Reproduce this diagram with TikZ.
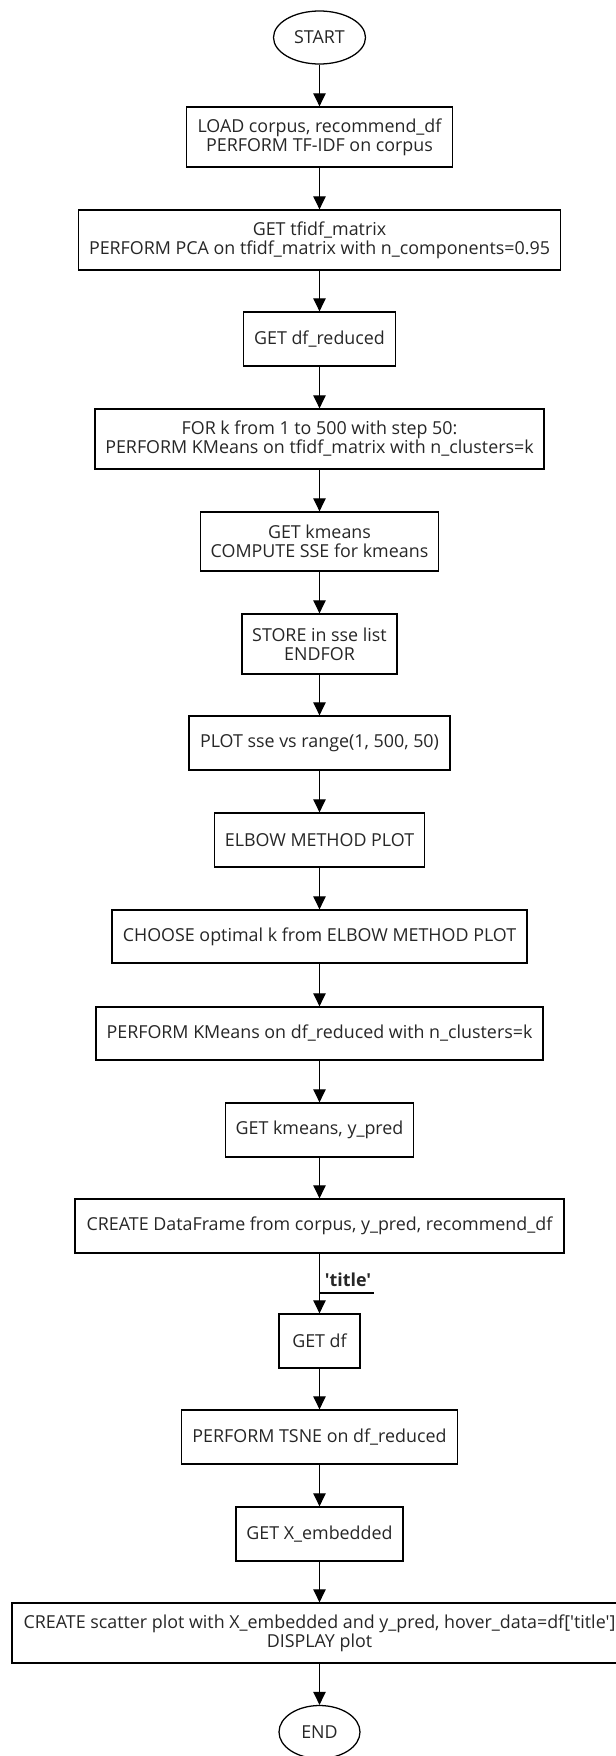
\documentclass[tikz,border=0pt]{standalone}
\usepackage{fontspec}
\newfontfamily\osfont{Open Sans}
\usetikzlibrary{arrows.meta,shapes.geometric}
\tikzset{
  bx/.style 2 args={draw, rectangle, line width=0.95pt, inner sep=0pt, align=center,
    minimum width=#1*0.75pt, minimum height=#2*0.75pt, text=black!85,
    font=\osfont\fontsize{13.4}{14.25}\selectfont},
  oval/.style 2 args={draw, ellipse, line width=0.95pt, inner sep=0pt,
    minimum width=#1*0.75pt, minimum height=#2*0.75pt, text=black!85,
    font=\osfont\fontsize{13.4}{14.25}\selectfont},
  flow/.style={draw, line width=0.95pt, -{Triangle[length=9.8pt,width=9.3pt]}},
}
\begin{document}
\begin{tikzpicture}[x=0.75pt,y=-0.75pt]
\useasboundingbox (0,0) rectangle (615,1756);
\node[oval={92}{53}] (start) at (319.5,37.5) {START};
\node[bx={266}{60}] (b1) at (319.5,137) {LOAD corpus, recommend\_df\\PERFORM TF-IDF on corpus};
\node[bx={482}{60}] (b2) at (319.5,240) {GET tfidf\_matrix\\PERFORM PCA on tfidf\_matrix with n\_components=0.95};
\node[bx={152}{54}] (b3) at (319.5,339) {GET df\_reduced};
\node[bx={449}{60}] (b4) at (319.5,439) {FOR k from 1 to 500 with step 50:\\PERFORM KMeans on tfidf\_matrix with n\_clusters=k};
\node[bx={238}{59}] (b5) at (319.5,541.5) {GET kmeans\\COMPUTE SSE for kmeans};
\node[bx={155}{60}] (b6) at (319.5,644) {STORE in sse list\\ENDFOR};
\node[bx={261}{54}] (b7) at (319.5,743) {PLOT sse vs range(1, 500, 50)};
\node[bx={210}{54}] (b8) at (319.5,840) {ELBOW METHOD PLOT};
\node[bx={415}{53}] (b9) at (319.5,936.5) {CHOOSE optimal k from ELBOW METHOD PLOT};
\node[bx={447}{53}] (b10) at (319.5,1033.5) {PERFORM KMeans on df\_reduced with n\_clusters=k};
\node[bx={188}{54}] (b11) at (319.5,1130) {GET kmeans, y\_pred};
\node[bx={489}{54}] (b12) at (319.5,1226) {CREATE DataFrame from corpus, y\_pred, recommend\_df};
\node[bx={81}{54}] (b13) at (319.5,1341) {GET df};
\node[bx={276}{54}] (b14) at (319.5,1437) {PERFORM TSNE on df\_reduced};
\node[bx={167}{54}] (b15) at (319.5,1534) {GET X\_embedded};
\node[bx={615}{60}] (b16) at (319.5,1633) {CREATE scatter plot with X\_embedded and y\_pred, hover\_data=df['title']\\DISPLAY plot};
\node[oval={81}{53}] (end) at (319.5,1732) {END};
\node[inner sep=0pt, anchor=base, text=black!85, font=\osfont\fontsize{13.4}{14}\selectfont\bfseries] (lbl) at (348,1286) {'title'};
\coordinate (ul) at (319.5,1293);
\draw[line width=0.95pt] (ul) -- (ul -| 374,0);
\draw[flow] (start) -- (b1);
\draw[flow] (b1) -- (b2);
\draw[flow] (b2) -- (b3);
\draw[flow] (b3) -- (b4);
\draw[flow] (b4) -- (b5);
\draw[flow] (b5) -- (b6);
\draw[flow] (b6) -- (b7);
\draw[flow] (b7) -- (b8);
\draw[flow] (b8) -- (b9);
\draw[flow] (b9) -- (b10);
\draw[flow] (b10) -- (b11);
\draw[flow] (b11) -- (b12);
\draw[flow] (b12) -- (b13);
\draw[flow] (b13) -- (b14);
\draw[flow] (b14) -- (b15);
\draw[flow] (b15) -- (b16);
\draw[flow] (b16) -- (end);
\end{tikzpicture}
\end{document}
